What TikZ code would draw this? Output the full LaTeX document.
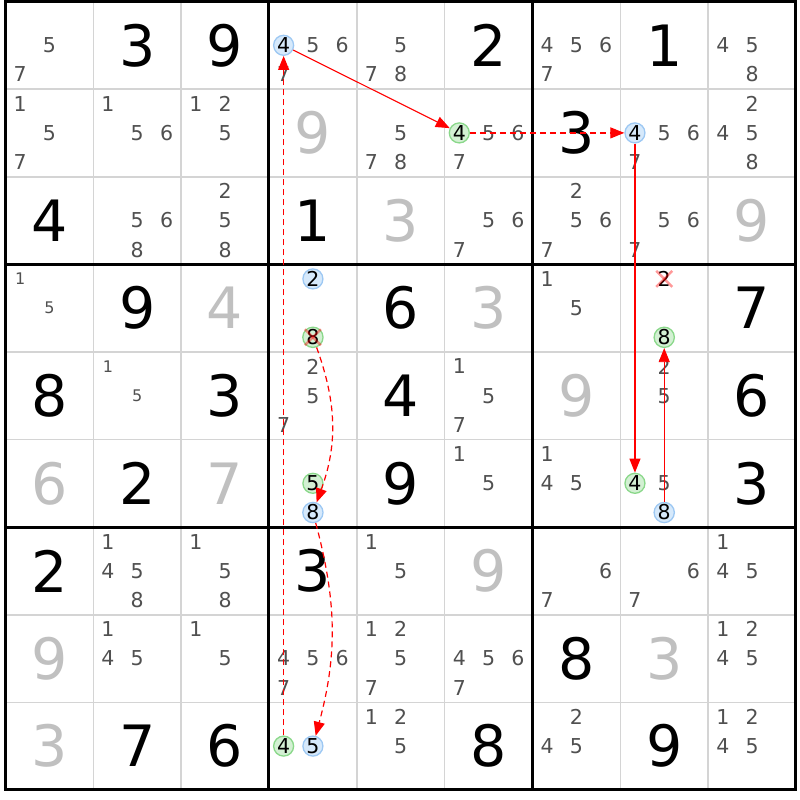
\documentclass[tikz,border=0pt]{standalone}
\usepackage{fontspec}
\setmainfont{DejaVu Sans}
\usetikzlibrary{arrows.meta}
\definecolor{candgray}{HTML}{505050}
\definecolor{solvgray}{HTML}{C0C0C0}
\definecolor{gridgray}{HTML}{D4D4D4}
\definecolor{bfill}{HTML}{D6E9FB}
\definecolor{bline}{HTML}{9DC8F3}
\definecolor{gfill}{HTML}{D3F0D3}
\definecolor{gline}{HTML}{8AD88A}
\def\xo{5.5}\def\yo{1.5}\def\cw{87.83}\def\ch{87.6}
\tikzset{
  givenst/.style={font=\fontsize{57}{57}\selectfont, text=black, inner sep=0pt},
  solvedst/.style={font=\fontsize{57}{57}\selectfont, text=solvgray, inner sep=0pt},
  cand/.style={font=\fontsize{20.5}{20.5}\selectfont, text=candgray, inner sep=0pt},
  smallcand/.style={font=\fontsize{16}{16}\selectfont, text=candgray, inner sep=0pt},
  plaincand/.style={font=\fontsize{20.5}{20.5}\selectfont, text=black, inner sep=0pt},
  hlblue/.style={circle, draw=bline, fill=bfill, line width=1.3pt, minimum size=20pt, inner sep=0pt, font=\fontsize{20.5}{20.5}\selectfont, text=black},
  hlgreen/.style={circle, draw=gline, fill=gfill, line width=1.3pt, minimum size=20pt, inner sep=0pt, font=\fontsize{20.5}{20.5}\selectfont, text=black},
  thingrid/.style={gridgray, line width=1.6pt},
  thickgrid/.style={black, line width=3pt},
  link/.style={red, line width=1.1pt, -{Triangle[length=14pt,width=11pt]}},
  weaklink/.style={link, line width=1.2pt, dash pattern=on 6pt off 4pt},
  xmark/.style={red, opacity=0.4, line width=2.5pt}
}
\newcommand\given[3]{\node[givenst] (g#1#2) at ({\xo+(#2-0.5)*\cw},{\yo+(#1-0.5)*\ch}) {#3};}
\newcommand\solved[3]{\node[solvedst] (s#1#2) at ({\xo+(#2-0.5)*\cw},{\yo+(#1-0.5)*\ch}) {#3};}
\newcommand\cands[4][cand]{\foreach \d in {#4}{\node[#1] (n#2#3\d) at ({\xo+(#3-0.5)*\cw+(mod(\d-1,3)-1)*\cw/3},{\yo+(#2-0.5)*\ch+(floor((\d-1)/3)-1)*\ch/3}) {\d};}}
\newcommand\xover[1]{%
  \draw[xmark] ([shift={(-8,-8)}]#1.center) -- ([shift={(8,8)}]#1.center);
  \draw[xmark] ([shift={(-8,8)}]#1.center) -- ([shift={(8,-8)}]#1.center);}
\begin{document}
\begin{tikzpicture}[x=1pt,y=-1pt]
\useasboundingbox (0,0) rectangle (800,800);
\fill[white] (0,0) rectangle (800,800);
% grid
\foreach \i in {1,2,4,5,7,8}{
  \draw[thingrid] ({\xo+\i*\cw},\yo) -- ({\xo+\i*\cw},{\yo+9*\ch});
  \draw[thingrid] (\xo,{\yo+\i*\ch}) -- ({\xo+9*\cw},{\yo+\i*\ch});
}
\foreach \i in {0,3,6,9}{
  \draw[thickgrid] ({\xo+\i*\cw},{\yo-1.5}) -- ({\xo+\i*\cw},{\yo+9*\ch+1.5});
  \draw[thickgrid] ({\xo-1.5},{\yo+\i*\ch}) -- ({\xo+9*\cw+1.5},{\yo+\i*\ch});
}
% givens
\given{1}{2}{3}\given{1}{3}{9}\given{1}{6}{2}\given{1}{8}{1}
\given{2}{7}{3}
\given{3}{1}{4}\given{3}{4}{1}
\given{4}{2}{9}\given{4}{5}{6}\given{4}{9}{7}
\given{5}{1}{8}\given{5}{3}{3}\given{5}{5}{4}\given{5}{9}{6}
\given{6}{2}{2}\given{6}{5}{9}\given{6}{9}{3}
\given{7}{1}{2}\given{7}{4}{3}
\given{8}{7}{8}
\given{9}{2}{7}\given{9}{3}{6}\given{9}{6}{8}\given{9}{8}{9}
% solved
\solved{2}{4}{9}\solved{3}{5}{3}\solved{3}{9}{9}
\solved{4}{3}{4}\solved{4}{6}{3}\solved{5}{7}{9}
\solved{6}{1}{6}\solved{6}{3}{7}\solved{7}{6}{9}
\solved{8}{1}{9}\solved{8}{8}{3}\solved{9}{1}{3}
% candidates
\cands{1}{1}{5,7}\cands{1}{4}{5,6,7}\cands{1}{5}{5,7,8}\cands{1}{7}{4,5,6,7}\cands{1}{9}{4,5,8}
\cands{2}{1}{1,5,7}\cands{2}{2}{1,5,6}\cands{2}{3}{1,2,5}\cands{2}{5}{5,7,8}\cands{2}{6}{5,6,7}\cands{2}{8}{5,6,7}\cands{2}{9}{2,4,5,8}
\cands{3}{2}{5,6,8}\cands{3}{3}{2,5,8}\cands{3}{6}{5,6,7}\cands{3}{7}{2,5,6,7}\cands{3}{8}{5,6,7}
\cands[smallcand]{4}{1}{1,5}\cands{4}{7}{1,5}
\cands[smallcand]{5}{2}{1,5}\cands{5}{4}{2,5,7}\cands{5}{6}{1,5,7}\cands{5}{8}{2,5}
\cands{6}{6}{1,5}\cands{6}{7}{1,4,5}\cands{6}{8}{5}
\cands{7}{2}{1,4,5,8}\cands{7}{3}{1,5,8}\cands{7}{5}{1,5}\cands{7}{7}{6,7}\cands{7}{8}{6,7}\cands{7}{9}{1,4,5}
\cands{8}{2}{1,4,5}\cands{8}{3}{1,5}\cands{8}{4}{4,5,6,7}\cands{8}{5}{1,2,5,7}\cands{8}{6}{4,5,6,7}\cands{8}{9}{1,2,4,5}
\cands{9}{5}{1,2,5}\cands{9}{7}{2,4,5}\cands{9}{9}{1,2,4,5}
% highlighted candidates
\cands[hlblue]{1}{4}{4}
\cands[hlgreen]{2}{6}{4}
\cands[hlblue]{2}{8}{4}
\cands[hlblue]{4}{4}{2}
\cands[hlgreen]{4}{4}{8}
\cands[plaincand]{4}{8}{2}
\cands[hlgreen]{4}{8}{8}
\cands[hlgreen]{6}{4}{5}
\cands[hlblue]{6}{4}{8}
\cands[hlgreen]{6}{8}{4}
\cands[hlblue]{6}{8}{8}
\cands[hlgreen]{9}{4}{4}
\cands[hlblue]{9}{4}{5}
% eliminations
\xover{n448}
\xover{n482}
% links
\draw[weaklink] (n944) -- (n144);
\draw[link] (n144) -- (n264);
\draw[weaklink] (n264) -- (n284);
\draw[link] (n284) -- (n684);
\draw[link, line width=0.8pt] (n688) -- (n488);
\draw[weaklink] (n448) to[bend left=20] (n648);
\draw[weaklink] (n648) to[bend left=15] (n945);
\end{tikzpicture}
\end{document}
